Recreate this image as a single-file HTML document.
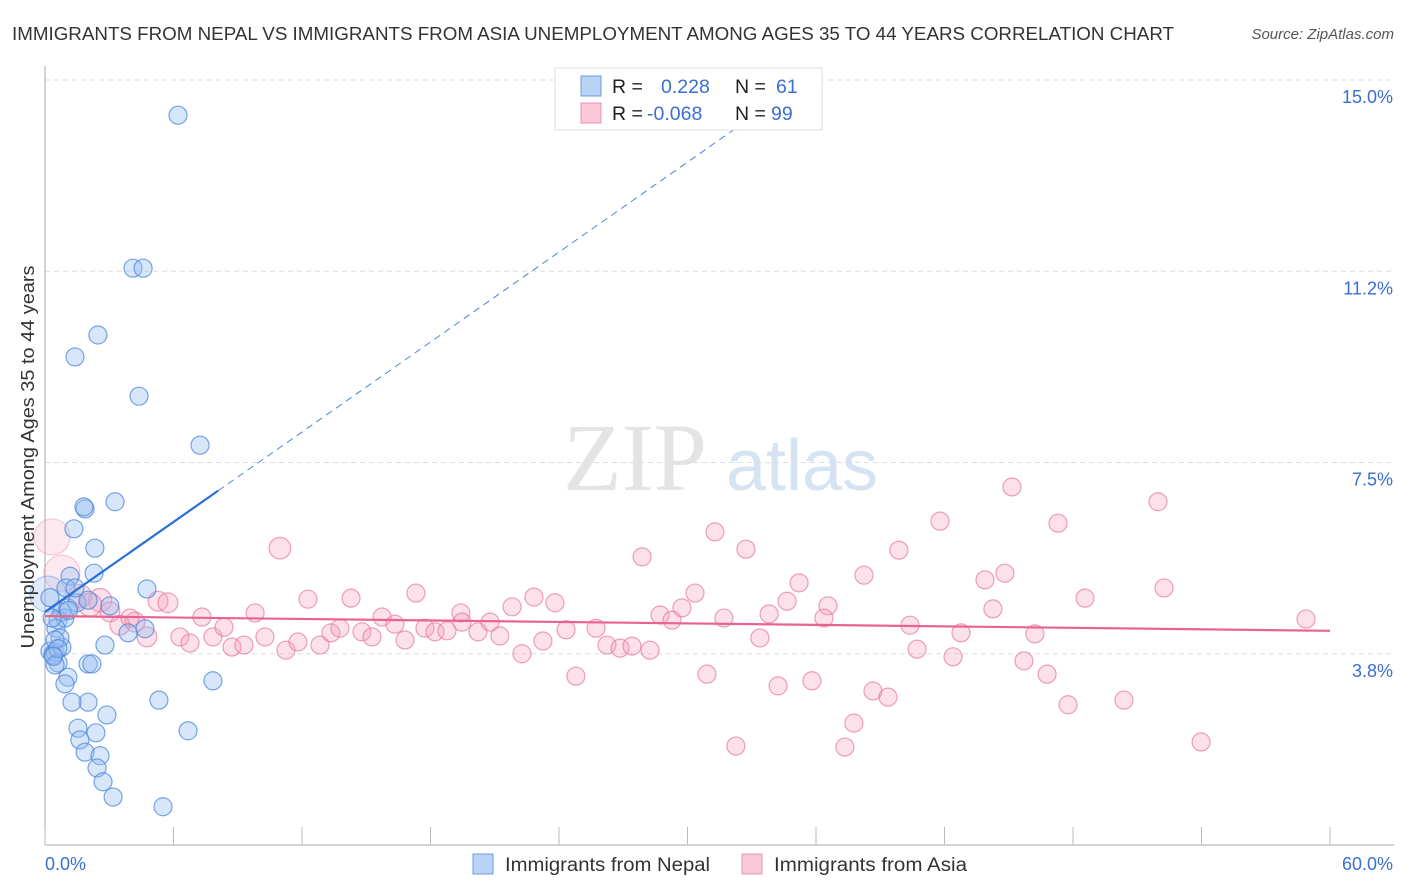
<!DOCTYPE html>
<html><head><meta charset="utf-8"><style>
body{margin:0;background:#fff;font-family:"Liberation Sans",sans-serif;}
svg{display:block}
</style></head><body>
<svg id="chart" width="1406" height="892">
<text x="12" y="40" font-size="18" fill="#333" textLength="1162" lengthAdjust="spacingAndGlyphs">IMMIGRANTS FROM NEPAL VS IMMIGRANTS FROM ASIA UNEMPLOYMENT AMONG AGES 35 TO 44 YEARS CORRELATION CHART</text>
<text x="1394" y="39" font-size="15" fill="#555" font-style="italic" text-anchor="end">Source: ZipAtlas.com</text>
<g>
<text x="635" y="490" font-size="96" font-family="Liberation Serif,serif" fill="#e4e4e4" text-anchor="middle">ZIP</text>
<text x="802" y="490" font-size="72" fill="#d5e3f3" text-anchor="middle">atlas</text>
</g>
<g id="grid"></g><g id="axes"></g><g id="pts"></g><g id="lines"></g>
<g>
<rect x="555" y="68" width="267" height="62" fill="#fff" stroke="#ddd"/>
<rect x="581" y="76" width="20" height="20" fill="#b9d3f5" stroke="#6a9be0"/>
<rect x="581" y="103" width="20" height="20" fill="#f9c9d8" stroke="#e891ae"/>
<text x="612" y="93" font-size="19.5" fill="#222">R = <tspan x="661" fill="#3a6fd0">0.228</tspan><tspan x="735" fill="#222">N = </tspan><tspan x="776" fill="#3a6fd0">61</tspan></text>
<text x="612" y="120" font-size="19.5" fill="#222">R = <tspan x="647" fill="#3a6fd0">-0.068</tspan><tspan x="735" fill="#222">N = </tspan><tspan x="771" fill="#3a6fd0">99</tspan></text>
</g>
<g>
<rect x="473" y="854" width="20" height="20" fill="#b9d3f5" stroke="#6a9be0"/>
<text x="505" y="871" font-size="19" fill="#333" textLength="205" lengthAdjust="spacingAndGlyphs">Immigrants from Nepal</text>
<rect x="742" y="854" width="20" height="20" fill="#f9c9d8" stroke="#e891ae"/>
<text x="774" y="871" font-size="19" fill="#333" textLength="193" lengthAdjust="spacingAndGlyphs">Immigrants from Asia</text>
</g>
<text transform="translate(34,457) rotate(-90)" font-size="18" fill="#333" text-anchor="middle" textLength="383" lengthAdjust="spacingAndGlyphs">Unemployment Among Ages 35 to 44 years</text>
</svg>
<script>
const yTicks=[15,11.25,7.5,3.75];
const yTickLabels=["15.0%","11.2%","7.5%","3.8%"];
const xTicks=[0,6,12,18,24,30,36,42,48,54,60];
const nepalX=[6.21,4.11,4.58,2.47,1.40,4.39,7.24,3.27,1.87,1.35,2.33,1.17,2.29,4.76,0.14,0.79,1.07,1.49,3.03,2.01,0.61,0.93,0.51,4.67,3.88,2.80,0.23,0.47,0.37,0.79,0.61,0.47,2.01,2.19,7.84,1.07,0.93,2.01,1.26,5.32,2.89,1.54,2.38,1.63,6.68,1.87,2.57,2.43,2.71,3.18,5.51,0.70,0.47,0.33,0.98,1.82,0.23,1.40,1.10,0.60,0.40];
const nepalY=[14.31,11.31,11.31,10.0,9.57,8.80,7.84,6.73,6.59,6.20,5.82,5.27,5.33,5.02,4.92,4.57,4.65,4.75,4.69,4.80,4.41,4.45,4.25,4.24,4.16,3.92,3.80,3.78,3.73,3.88,3.57,3.53,3.55,3.55,3.22,3.29,3.16,2.80,2.80,2.84,2.55,2.29,2.20,2.06,2.24,1.82,1.75,1.51,1.24,0.94,0.75,4.06,4.02,4.45,5.04,6.63,4.85,5.04,4.60,3.85,3.70];
const nepalSize=[1,1,1,1,1,1,1,1,1,1,1,1,1,1,2,1,1,1,1,1,1,1,1,1,1,1,1,1,1,1,1,1,1,1,1,1,1,1,1,1,1,1,1,1,1,1,1,1,1,1,1,1,1,1,1,1,1,1,1,1,1];
const asiaX=[0.33,0.79,10.97,31.28,27.88,32.73,41.79,47.30,45.15,51.97,39.87,38.24,44.82,43.89,35.21,52.25,48.56,44.26,36.56,34.65,30.35,29.74,17.32,12.28,14.29,22.83,23.81,21.81,19.42,5.28,5.74,2.57,1.63,2.10,3.03,4.20,3.50,4.76,6.30,7.33,9.81,6.77,7.84,8.36,8.73,9.29,10.27,11.25,11.81,12.84,13.35,13.77,14.80,15.27,15.74,16.34,16.81,17.74,18.21,18.77,19.47,20.22,20.78,21.24,22.27,23.25,24.33,25.73,26.24,26.85,27.41,28.25,28.72,29.28,31.70,33.81,36.37,40.39,33.38,42.77,46.22,40.72,42.40,45.71,46.79,24.79,30.91,34.23,35.81,38.66,39.36,37.77,47.77,50.38,53.98,32.26,37.35,58.88,3.97];
const asiaY=[6.04,5.33,5.82,6.14,5.65,5.80,6.35,6.31,7.02,6.73,5.78,5.29,5.33,5.20,5.14,5.04,4.84,4.63,4.69,4.78,4.94,4.65,4.94,4.82,4.84,4.86,4.75,4.67,4.55,4.78,4.75,4.80,4.88,4.71,4.57,4.37,4.31,4.08,4.08,4.47,4.55,3.96,4.08,4.27,3.88,3.92,4.08,3.82,3.98,3.92,4.16,4.25,4.18,4.08,4.47,4.33,4.02,4.25,4.18,4.20,4.37,4.18,4.37,4.10,3.75,4.00,4.22,4.25,3.92,3.86,3.90,3.82,4.51,4.41,4.45,4.53,4.45,4.31,4.06,4.16,4.14,3.84,3.69,3.61,3.35,3.31,3.35,3.12,3.22,3.02,2.90,2.39,2.75,2.84,2.02,1.94,1.92,4.43,4.45];
const asiaSize=[2,2,1.2,1,1,1,1,1,1,1,1,1,1,1,1,1,1,1,1,1,1,1,1,1,1,1,1,1,1,1.1,1.1,1.3,1.3,1.3,1.1,1.1,1.1,1.1,1,1,1,1,1,1,1,1,1,1,1,1,1,1,1,1,1,1,1,1,1,1,1,1,1,1,1,1,1,1,1,1,1,1,1,1,1,1,1,1,1,1,1,1,1,1,1,1,1,1,1,1,1,1,1,1,1,1,1,1,1];
const nepalTrend=[4.57,0.294,8.08];
const asiaTrend=[4.49,4.20];
const X0=45,X1=1330,Y0=845,Y1=80,XMAX=60,YMAX=15;
const sx=v=>X0+(X1-X0)*v/XMAX, sy=v=>Y0-(Y0-Y1)*v/YMAX;
const NS="http://www.w3.org/2000/svg";
function mk(tag,attrs,parent){const e=document.createElementNS(NS,tag);for(const k in attrs)e.setAttribute(k,attrs[k]);document.getElementById(parent).appendChild(e);return e;}
yTicks.forEach((t,i)=>{
 const l=mk('line',{x1:X0,x2:1394,y1:sy(t),y2:sy(t),stroke:'#ddd','stroke-dasharray':'5,4'},'grid');
 
 
 const tx=mk('text',{x:1393,y:sy(t)+23,'font-size':18,fill:'#3a6fd0','text-anchor':'end'},'axes');
 tx.textContent=yTickLabels[i];
 
 
});
const ya=mk('line',{x1:X0,x2:X0,y1:66,y2:Y0,stroke:'#aaa'},'axes');


const xa=mk('line',{x1:X0,x2:1394,y1:Y0,y2:Y0,stroke:'#aaa'},'axes');


xTicks.forEach(t=>{
 const l=mk('line',{x1:sx(t),x2:sx(t),y1:Y0,y2:Y0-18,stroke:'#bbb'},'axes');
 
 
});
const xl0=mk('text',{x:45,y:870,'font-size':18,fill:'#3a6fd0'},'axes');xl0.textContent='0.0%';


const xl1=mk('text',{x:1393,y:870,'font-size':18,fill:'#3a6fd0','text-anchor':'end'},'axes');xl1.textContent='60.0%';


asiaX.forEach((v,i)=>{
 const big=asiaSize[i]>1.5;
 const c=mk('circle',{cx:sx(v),cy:sy(asiaY[i]),r:9*asiaSize[i],fill:big?'rgba(245,160,190,0.22)':'rgba(245,160,190,0.33)',stroke:big?'rgba(230,120,160,0.4)':'rgba(230,120,160,0.7)','stroke-width':1.2},'pts');
 
 
});
nepalX.forEach((v,i)=>{
 const big=nepalSize[i]>1.5;
 const c=mk('circle',{cx:sx(v),cy:sy(nepalY[i]),r:9*nepalSize[i],fill:big?'rgba(150,190,240,0.3)':'rgba(150,190,240,0.38)',stroke:big?'rgba(70,130,220,0.4)':'rgba(70,130,220,0.72)','stroke-width':1.2},'pts');
 
 
});
const nb=nepalTrend[0],nm=nepalTrend[1],ne=nepalTrend[2];
const tEnd=(YMAX*0.945-nb)/nm;
const l1=mk('line',{x1:sx(0),y1:sy(nb),x2:sx(ne),y2:sy(nb+nm*ne),stroke:'#2a6fd6','stroke-width':2.2},'lines');


const l2=mk('line',{x1:sx(ne),y1:sy(nb+nm*ne),x2:sx(tEnd),y2:sy(nb+nm*tEnd),stroke:'#4a85d8','stroke-width':1,'stroke-dasharray':'7,5'},'lines');


const l3=mk('line',{x1:sx(0),y1:sy(asiaTrend[0]),x2:sx(60),y2:sy(asiaTrend[1]),stroke:'#e8648f','stroke-width':2.2},'lines');


</script>
</body></html>
